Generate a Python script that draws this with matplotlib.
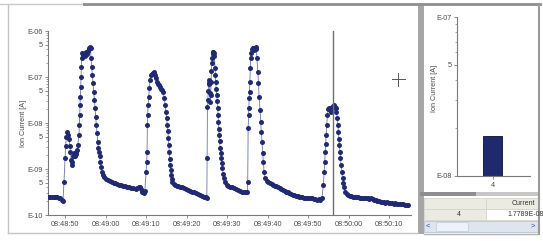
import numpy as np
import matplotlib
matplotlib.use("Agg")
import matplotlib.pyplot as plt
from matplotlib.patches import Rectangle
from matplotlib.lines import Line2D
from matplotlib.ticker import FixedLocator, FixedFormatter, NullFormatter, LogLocator

plt.rcParams['font.family'] = ['Liberation Sans', 'DejaVu Sans']

# (seconds after 08:48:50, log10 of ion current in A)
base_0 = [(-4.0, -9.60), (-3.6, -9.61), (-3.2, -9.60), (-2.8, -9.61), (-2.4, -9.60), (-2.0, -9.61),
          (-1.6, -9.62), (-1.2, -9.64), (-0.8, -9.67), (-0.5, -9.69)]
peak_1 = [(-0.25, -9.28), (0.0, -8.76), (0.15, -8.50), (0.35, -8.30), (0.6, -8.20), (0.85, -8.25),
          (1.05, -8.35), (1.2, -8.50), (1.35, -8.62), (1.5, -8.80), (1.65, -8.92), (1.8, -8.85),
          (2.0, -8.72), (2.2, -8.65), (2.4, -8.72), (2.6, -8.62), (2.8, -8.68), (3.0, -8.58),
          (3.15, -8.48), (3.46, -8.26), (3.53, -8.04), (3.63, -7.83), (3.70, -7.61), (3.78, -7.43),
          (3.88, -7.22), (3.95, -7.00), (4.02, -6.78), (4.12, -6.59), (4.27, -6.48), (4.45, -6.52),
          (4.65, -6.50), (4.85, -6.55), (5.05, -6.48), (5.25, -6.46), (5.45, -6.50), (5.65, -6.44),
          (5.85, -6.40), (6.0, -6.37), (6.15, -6.35), (6.3, -6.36), (6.42, -6.59), (6.58, -6.78),
          (6.75, -6.96), (6.91, -7.13), (7.08, -7.33), (7.24, -7.50), (7.41, -7.67), (7.57, -7.87),
          (7.74, -8.04), (7.90, -8.22), (8.07, -8.41), (8.23, -8.54), (8.4, -8.63), (8.55, -8.72),
          (8.7, -8.85), (8.9, -8.95), (9.2, -9.07), (9.45, -9.13), (9.7, -9.17), (10.2, -9.21),
          (10.7, -9.24), (11.2, -9.27), (11.6, -9.29), (12.0, -9.30)]
base_1 = [(12.4, -9.31), (12.9, -9.32), (13.4, -9.34), (13.9, -9.35), (14.4, -9.36), (14.9, -9.38),
          (15.4, -9.39), (15.9, -9.40), (16.4, -9.41), (16.9, -9.42), (17.4, -9.43), (17.8, -9.42),
          (18.2, -9.40), (18.5, -9.39), (18.8, -9.44), (19.1, -9.50), (19.4, -9.52), (19.7, -9.48)]
peak_2 = [(20.0, -9.07), (20.17, -8.85), (20.25, -8.63), (20.33, -8.04), (20.41, -7.83), (20.49, -7.61),
          (20.66, -7.43), (20.82, -7.24), (20.99, -7.07), (21.15, -6.96), (21.4, -6.93), (21.6, -6.91),
          (21.85, -6.90), (22.05, -6.91), (22.3, -6.95), (22.5, -7.02), (22.7, -7.10), (22.95, -7.15),
          (23.2, -7.18), (23.45, -7.22), (23.7, -7.25), (23.95, -7.28), (24.2, -7.33), (24.5, -7.46),
          (24.7, -7.60), (24.94, -7.76), (25.1, -7.90), (25.27, -8.04), (25.4, -8.18), (25.5, -8.33),
          (25.62, -8.48), (25.75, -8.63), (25.85, -8.78), (25.93, -8.91), (26.05, -9.02), (26.17, -9.13),
          (26.35, -9.22), (26.5, -9.28), (26.8, -9.32), (27.16, -9.35), (27.6, -9.37), (28.0, -9.38),
          (28.4, -9.39)]
base_2 = [(28.9, -9.40), (29.4, -9.41), (29.9, -9.43), (30.4, -9.45), (30.9, -9.47), (31.4, -9.49),
          (31.9, -9.51), (32.4, -9.53), (32.9, -9.55), (33.4, -9.57), (33.9, -9.58), (34.3, -9.60),
          (34.7, -9.61), (35.0, -9.62)]
peak_3 = [(35.08, -8.76), (35.15, -7.65), (35.25, -7.50), (35.35, -7.30), (35.45, -7.12), (35.55, -7.07),
          (35.65, -7.15), (35.75, -7.35), (35.85, -7.55), (35.95, -7.40), (36.05, -7.10), (36.15, -6.88),
          (36.25, -6.70), (36.35, -6.58), (36.45, -6.50), (36.55, -6.46), (36.65, -6.45), (36.75, -6.48),
          (36.85, -6.55), (37.04, -6.80), (37.12, -6.95), (37.2, -7.11), (37.33, -7.25), (37.46, -7.39),
          (37.58, -7.53), (37.7, -7.67), (37.78, -7.83), (37.85, -7.98), (37.94, -8.12), (38.02, -8.26),
          (38.15, -8.40), (38.27, -8.54), (38.4, -8.65), (38.52, -8.76), (38.68, -8.87), (38.84, -8.98),
          (39.0, -9.10), (39.15, -9.20), (39.5, -9.28), (39.9, -9.34), (40.3, -9.38)]
base_3 = [(40.8, -9.39), (41.3, -9.40), (41.8, -9.41), (42.3, -9.43), (42.8, -9.45), (43.3, -9.47),
          (43.8, -9.49), (44.3, -9.50), (44.7, -9.51), (45.0, -9.50)]
peak_4 = [(45.1, -9.28), (45.2, -8.11), (45.3, -7.83), (45.38, -7.67), (45.46, -7.46), (45.54, -7.33),
          (45.62, -7.11), (45.72, -6.80), (45.82, -6.59), (45.92, -6.48), (46.1, -6.40), (46.3, -6.36),
          (46.5, -6.38), (46.7, -6.41), (46.9, -6.37), (47.1, -6.35), (47.25, -6.40), (47.35, -6.59),
          (47.6, -6.89), (47.75, -7.13), (47.9, -7.43), (48.15, -7.72), (48.3, -7.98), (48.45, -8.20),
          (48.64, -8.41), (48.8, -8.65), (48.97, -8.85), (49.14, -9.07), (49.4, -9.20), (49.8, -9.25),
          (50.2, -9.28)]
base_4 = [(50.6, -9.30), (51.0, -9.33), (51.4, -9.35), (51.8, -9.36), (52.2, -9.37), (52.6, -9.39),
          (53.0, -9.41), (53.4, -9.43), (53.8, -9.45), (54.2, -9.47), (54.6, -9.49), (55.0, -9.51),
          (55.4, -9.52), (55.8, -9.55), (56.2, -9.56), (56.6, -9.57), (57.0, -9.58), (57.4, -9.59),
          (57.8, -9.60), (58.2, -9.61), (58.6, -9.61), (59.0, -9.62), (59.4, -9.62), (59.8, -9.63),
          (60.2, -9.63), (60.6, -9.62), (61.0, -9.64), (61.4, -9.65), (61.8, -9.66), (62.2, -9.67),
          (62.6, -9.66), (63.0, -9.67), (63.4, -9.63)]
peak_5 = [(63.78, -9.35), (63.95, -9.07), (64.1, -8.85), (64.2, -8.63), (64.32, -8.45), (64.44, -8.26),
          (64.6, -8.04), (64.77, -7.83), (65.0, -7.70), (65.2, -7.67), (65.4, -7.72), (65.6, -7.75),
          (65.8, -7.70), (66.0, -7.66), (66.2, -7.62), (66.4, -7.61), (66.6, -7.65), (66.8, -7.68),
          (67.0, -7.75), (67.23, -7.89), (67.35, -8.05), (67.48, -8.20), (67.6, -8.34), (67.73, -8.48),
          (67.85, -8.62), (67.98, -8.76), (68.15, -8.92), (68.32, -9.07), (68.5, -9.20), (68.72, -9.30),
          (68.9, -9.40), (69.14, -9.50), (69.5, -9.54), (69.9, -9.57)]
base_5 = [(70.3, -9.58), (70.7, -9.59), (71.1, -9.60), (71.5, -9.61), (71.9, -9.61), (72.3, -9.60),
          (72.7, -9.62), (73.1, -9.62), (73.5, -9.63), (73.9, -9.62), (74.3, -9.63), (74.7, -9.64),
          (75.1, -9.65), (75.5, -9.64), (75.9, -9.66), (76.3, -9.67), (76.7, -9.68), (77.1, -9.69),
          (77.5, -9.70), (77.9, -9.72), (78.3, -9.71), (78.7, -9.72), (79.1, -9.73), (79.5, -9.72),
          (79.9, -9.73), (80.3, -9.74), (80.7, -9.74), (81.1, -9.75), (81.5, -9.74), (81.9, -9.76),
          (82.3, -9.76), (82.7, -9.77), (83.1, -9.76), (83.5, -9.77), (83.9, -9.78), (84.3, -9.78),
          (84.7, -9.78)]

segments = [base_0, peak_1, base_1, peak_2, base_2, peak_3, base_3, peak_4, base_4, peak_5, base_5]

x_ticks = [0, 10, 20, 30, 40, 50, 60, 70, 80]
x_labels = ["08:48:50", "08:49:00", "08:49:10", "08:49:20", "08:49:30",
            "08:49:40", "08:49:50", "08:50:00", "08:50:10"]
y_ticks = [1e-10, 5e-10, 1e-9, 5e-9, 1e-8, 5e-8, 1e-7, 5e-7, 1e-6]
y_labels = ["E-10", "5", "E-09", "5", "E-08", "5", "E-07", "5", "E-06"]
cursor_t = 66.2

bar_labels = ["4"]
bar_values = [1.7789e-8]
bar_y_ticks = [1e-8, 5e-8, 1e-7]
bar_y_labels = ["E-08", "5", "E-07"]

W, H = 543, 241
fig = plt.figure(figsize=(W / 100, H / 100), dpi=100)
fig.patch.set_facecolor('white')


def box(x0, y0, x1, y1):
    return [x0 / W, 1 - y1 / H, (x1 - x0) / W, (y1 - y0) / H]


def fline(xs, ys, color, lw=1.0):
    fig.add_artist(Line2D([x / W for x in xs], [1 - y / H for y in ys], color=color, lw=lw))


def frect(x0, y0, x1, y1, fc, ec='none', lw=0.6):
    fig.add_artist(Rectangle((x0 / W, 1 - y1 / H), (x1 - x0) / W, (y1 - y0) / H,
                             transform=fig.transFigure, facecolor=fc, edgecolor=ec, lw=lw))


def style_axis(a):
    for s in ['top', 'right']:
        a.spines[s].set_visible(False)
    for s in ['left', 'bottom']:
        a.spines[s].set_color(axc)
        a.spines[s].set_linewidth(0.8)
    a.yaxis.set_minor_locator(LogLocator(base=10, subs=np.arange(2, 10), numticks=20))
    a.yaxis.set_minor_formatter(NullFormatter())
    a.tick_params(axis='both', which='major', labelsize=5.2, labelcolor=txt, color=axc,
                  length=2, width=0.6, pad=2)
    a.tick_params(axis='y', which='minor', length=1.4, width=0.5, color=axc)


txt = '#4a4a4a'
axc = '#7a7a7a'

# main chart
t = np.array([p[0] for s in segments for p in s])
cur = 10 ** np.array([p[1] for s in segments for p in s])

ax = fig.add_axes(box(48, 31, 411, 215))
ax.plot(t, cur, color='#6a74b0', lw=0.6, zorder=2)
ax.plot(t, cur, 'o', color='#1f2a72', ms=3.6, mew=0, zorder=3)
ax.set_yscale('log')
ax.set_ylim(1e-10, 1e-6)
ax.set_xlim(-4.2, 85.4)
ax.axvline(cursor_t, color='#6e6e6e', lw=1.0, zorder=4)
ax.yaxis.set_major_locator(FixedLocator(y_ticks))
ax.yaxis.set_major_formatter(FixedFormatter(y_labels))
ax.set_xticks(x_ticks)
ax.set_xticklabels(x_labels)
style_axis(ax)
ax.set_ylabel("Ion Current [A]", fontsize=5.2, color=txt)
ax.yaxis.set_label_coords(-0.057, 0.5)

# crosshair
fline([398, 398], [73, 86], '#555555', 0.7)
fline([391.5, 404.5], [79.5, 79.5], '#555555', 0.7)

# right bar chart
bx = fig.add_axes(box(457, 17, 530, 176))
bx.bar([0], bar_values, width=0.5, color='#1f2a6e', edgecolor='#0a0f30', lw=0.6)
bx.set_yscale('log')
bx.set_ylim(1e-8, 1e-7)
bx.set_xlim(-0.947, 0.974)
bx.yaxis.set_major_locator(FixedLocator(bar_y_ticks))
bx.yaxis.set_major_formatter(FixedFormatter(bar_y_labels))
bx.set_xticks([0])
bx.set_xticklabels(bar_labels)
style_axis(bx)
bx.set_ylabel("Ion Current [A]", fontsize=5.2, color=txt)
bx.yaxis.set_label_coords(-0.26, 0.55)

# window frames
fline([0, 84], [3.5, 3.5], '#c8c8c8', 1.0)
fline([84, 540], [3.5, 3.5], '#8e8e8e', 2.0)
fline([8, 8], [5, 233], '#c4c4c4', 1.0)
fline([8, 418], [233, 233], '#c4c4c4', 1.0)
frect(418, 4, 424, 234, '#a6a6a6')
fline([538.5, 538.5], [4, 234], '#9a9a9a', 1.5)
fline([424, 538], [233.5, 233.5], '#b0b0b0', 1.0)

# value table under the bar chart
frect(420, 192, 476, 196, '#8e8e8e')
frect(476, 192, 538, 196, '#c6c6c6')
frect(424, 198, 538, 208.5, '#ecebe3', '#d4d4cc')
frect(424, 209, 485.5, 219.5, '#ecebe3', '#d4d4cc')
frect(485.5, 209, 538, 219.5, 'white', '#d4d4cc')
fline([485.5, 485.5], [198, 208.5], '#d4d4cc', 0.6)
fig.text(535 / W, 1 - 203.5 / H, "Current", fontsize=5, color='#333333', ha='right', va='center')
fig.text(459 / W, 1 - 214.5 / H, "4", fontsize=5, color='#333333', ha='center', va='center')
fig.text(507 / W, 1 - 214.5 / H, "1.7789E-08", fontsize=5, color='#333333', ha='left', va='center')
frect(424, 221, 538, 232, '#dfe5ee', '#b8c2d2')
frect(436, 222, 468, 231, '#eef2f8', '#c8d0dc')
fig.text(428 / W, 1 - 226.5 / H, "<", fontsize=5.5, color='#2a4a9a', ha='center', va='center')
fig.text(533 / W, 1 - 226.5 / H, ">", fontsize=5.5, color='#2a4a9a', ha='center', va='center')

fig.savefig("out.png", dpi=100, facecolor='white')
